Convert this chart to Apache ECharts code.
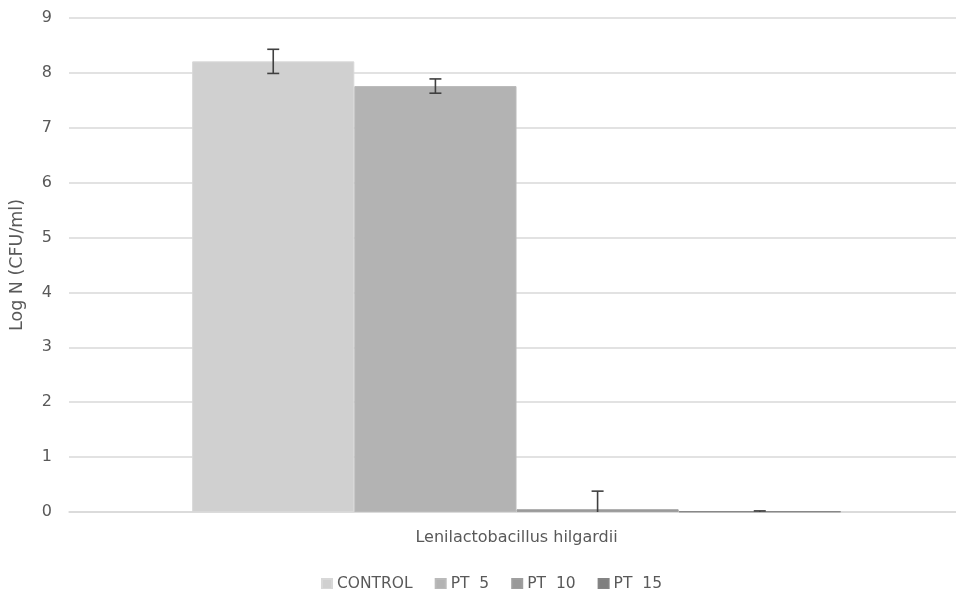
<!DOCTYPE html>
<html>
<head>
<meta charset="utf-8">
<script src="https://cdn.jsdelivr.net/npm/echarts@6/dist/echarts.min.js"></script>
<style>
  html, body { margin: 0; padding: 0; background: #fff; }
  #chart { width: 956px; height: 589px; }
</style>
</head>
<body>
<div id="chart"></div>
<script>
// Viability of Lenilactobacillus hilgardii per treatment (Log N, CFU/ml)
const categories = ['Lenilactobacillus hilgardii'];
const seriesNames = ['CONTROL', 'PT  5', 'PT  10', 'PT  15'];
const meanValues = [8.21, 7.76, 0.05, 0.01];
const errorValues = [0.22, 0.13, 0.33, 0.01];
const barColors = ['#d0d0d0', '#b3b3b3', '#999999', '#7f7f7f'];
const yTicks = [0, 1, 2, 3, 4, 5, 6, 7, 8, 9];

const categoryGap = 0.262;
const textColor = '#595959';
const fontFamily = '"DejaVu Sans", sans-serif';
const fontSize = 16;

const chart = echarts.init(document.getElementById('chart'), null, { renderer: 'canvas' });

const yRange = { min: yTicks[0], max: yTicks[yTicks.length - 1], interval: 1 };

const barSeries = seriesNames.map((name, i) => ({
  name: name,
  type: 'bar',
  xAxisIndex: 1,
  yAxisIndex: 1,
  data: [meanValues[i]],
  barGap: '0%',
  barCategoryGap: (categoryGap * 100) + '%',
  itemStyle: { color: barColors[i], borderColor: echarts.color.lift(barColors[i], -0.04), borderWidth: 1 },
  emphasis: { disabled: true },
  z: 2
}));

// Error bars drawn over each bar of the group
const errorData = seriesNames.map((_, i) => [0, i, meanValues[i], errorValues[i]]);

const errorSeries = {
  type: 'custom',
  name: 'error',
  xAxisIndex: 1,
  yAxisIndex: 1,
  data: errorData,
  z: 5,
  silent: true,
  renderItem: function (params, api) {
    const cat = api.value(0);
    const idx = api.value(1);
    const mean = api.value(2);
    const err = api.value(3);
    const catW = api.size([1, 0])[0];
    const groupW = catW * (1 - categoryGap);
    const barW = groupW / seriesNames.length;
    const cx = api.coord([cat, 0])[0] - groupW / 2 + barW * (idx + 0.5);
    const yHi = api.coord([cat, mean + err])[1];
    const yLo = api.coord([cat, Math.max(0, mean - err)])[1];
    const capHalf = 6;
    const style = { stroke: '#404040', lineWidth: 1.6 };
    const children = [
      { type: 'line', shape: { x1: cx, y1: yHi, x2: cx, y2: yLo }, style: style },
      { type: 'line', shape: { x1: cx - capHalf, y1: yHi, x2: cx + capHalf, y2: yHi }, style: style }
    ];
    if (mean - err > 0) {
      children.push({ type: 'line', shape: { x1: cx - capHalf, y1: yLo, x2: cx + capHalf, y2: yLo }, style: style });
    }
    return { type: 'group', children: children };
  }
};

chart.setOption({
  backgroundColor: '#ffffff',
  animation: false,
  textStyle: { fontFamily: fontFamily },
  // grid 0: value axis, gridlines and baseline; grid 1: the bar group
  grid: [
    { left: 69, top: 18, right: 0, height: 494, outerBoundsMode: 'none' },
    { left: 77, top: 18, right: 0, height: 494, outerBoundsMode: 'none' }
  ],
  legend: {
    data: seriesNames,
    top: 571,
    left: 316,
    icon: 'rect',
    itemWidth: 10,
    itemHeight: 10,
    itemGap: 22,
    textStyle: { color: textColor, fontSize: 15.5, fontFamily: fontFamily }
  },
  xAxis: [
    {
      gridIndex: 0,
      type: 'category',
      data: categories,
      axisLine: { lineStyle: { color: '#d9d9d9', width: 1.5 } },
      axisTick: { show: false },
      axisLabel: { show: false }
    },
    {
      gridIndex: 1,
      type: 'category',
      data: categories,
      axisLine: { show: false },
      axisTick: { show: false },
      axisLabel: { color: textColor, fontSize: fontSize, margin: 18, fontFamily: fontFamily }
    }
  ],
  yAxis: [
    {
      gridIndex: 0,
      type: 'value',
      min: yRange.min,
      max: yRange.max,
      interval: yRange.interval,
      name: 'Log N (CFU/ml)',
      nameLocation: 'middle',
      nameGap: 43,
      nameTextStyle: { color: textColor, fontSize: 17.5, fontFamily: fontFamily },
      axisLine: { show: false },
      axisTick: { show: false },
      axisLabel: { color: textColor, fontSize: fontSize, margin: 17, fontFamily: fontFamily },
      splitLine: { lineStyle: { color: '#d9d9d9', width: 1.5 } }
    },
    {
      gridIndex: 1,
      type: 'value',
      min: yRange.min,
      max: yRange.max,
      interval: yRange.interval,
      show: false,
      splitLine: { show: false }
    }
  ],
  series: barSeries.concat([errorSeries])
});
</script>
</body>
</html>
